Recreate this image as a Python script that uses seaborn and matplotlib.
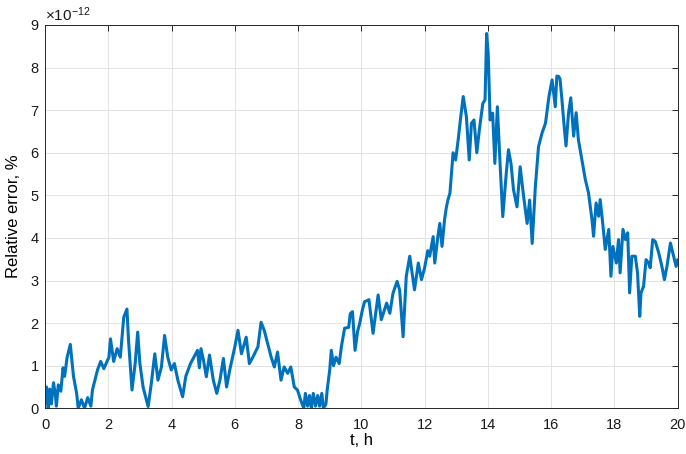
import numpy as np
import pandas as pd
import matplotlib
matplotlib.use("Agg")
import matplotlib.pyplot as plt
import seaborn as sns
from matplotlib.ticker import ScalarFormatter

# time, hours
t_h = [0.0, 0.05, 0.1, 0.15, 0.2, 0.27, 0.33, 0.36, 0.42, 0.5, 0.57, 0.62, 0.7, 0.8, 0.9,
       1.0, 1.05, 1.15, 1.25, 1.35, 1.45, 1.5, 1.66, 1.76, 1.86, 2.02, 2.07, 2.17, 2.28, 2.38,
       2.49, 2.59, 2.64, 2.75, 2.85, 2.93, 3.0, 3.1, 3.26, 3.36, 3.47, 3.57, 3.68, 3.78, 3.88,
       3.99, 4.09, 4.2, 4.35, 4.45, 4.6, 4.82, 4.88, 4.93, 5.01, 5.1, 5.2, 5.32, 5.43, 5.53,
       5.64, 5.74, 5.84, 6.0, 6.1, 6.21, 6.36, 6.46, 6.57, 6.73, 6.83, 6.93, 7.04, 7.15, 7.25,
       7.35, 7.46, 7.56, 7.67, 7.77, 7.88, 7.98, 8.08, 8.18, 8.23, 8.3, 8.36, 8.42, 8.48, 8.55,
       8.62, 8.68, 8.75, 8.8, 8.88, 8.92, 9.0, 9.05, 9.12, 9.2, 9.3, 9.37, 9.47, 9.6, 9.65,
       9.72, 9.8, 9.88, 9.95, 10.03, 10.1, 10.24, 10.37, 10.53, 10.63, 10.8, 10.9, 11.0, 11.13,
       11.21, 11.32, 11.42, 11.53, 11.68, 11.8, 11.9, 12.0, 12.1, 12.16, 12.27, 12.32, 12.42,
       12.48, 12.55, 12.63, 12.69, 12.74, 12.8, 12.9, 12.98, 13.06, 13.13, 13.22, 13.32, 13.41,
       13.48, 13.56, 13.65, 13.73, 13.84, 13.91, 13.96, 14.01, 14.07, 14.15, 14.22, 14.3, 14.39,
       14.47, 14.58, 14.65, 14.73, 14.81, 14.92, 15.02, 15.13, 15.24, 15.32, 15.4, 15.5, 15.6,
       15.71, 15.82, 15.93, 16.03, 16.13, 16.18, 16.24, 16.28, 16.34, 16.41, 16.47, 16.55, 16.62,
       16.71, 16.79, 16.86, 16.97, 17.08, 17.18, 17.29, 17.34, 17.42, 17.5, 17.55, 17.64, 17.71,
       17.82, 17.89, 17.95, 18.06, 18.13, 18.18, 18.27, 18.35, 18.42, 18.48, 18.55, 18.66, 18.73,
       18.8, 18.84, 18.92, 19.0, 19.08, 19.13, 19.21, 19.29, 19.4, 19.5, 19.58, 19.66, 19.77,
       19.87, 19.95, 20.0]

# relative error, units of 1e-12 %
err_e12 = [0.1, 0.5, 0.0, 0.45, 0.1, 0.6, 0.3, 0.05, 0.55, 0.4, 0.95, 0.75, 1.2, 1.5, 0.75,
           0.35, 0.0, 0.2, 0.0, 0.25, 0.05, 0.43, 0.9, 1.1, 0.93, 1.2, 1.63, 1.1, 1.4, 1.2,
           2.14, 2.33, 1.6, 0.43, 1.05, 1.79, 1.05, 0.5, 0.04, 0.58, 1.28, 0.66, 0.97, 1.71, 1.2,
           0.9, 1.05, 0.66, 0.27, 0.75, 1.05, 1.36, 0.95, 1.4, 1.13, 0.74, 1.25, 0.66, 0.35, 0.66,
           1.17, 0.5, 0.9, 1.44, 1.83, 1.28, 1.67, 1.05, 1.2, 1.44, 2.02, 1.83, 1.52, 1.2, 0.97,
           1.32, 0.66, 0.97, 0.82, 0.97, 0.5, 0.43, 0.2, 0.0, 0.35, 0.05, 0.3, 0.0, 0.35, 0.05,
           0.3, 0.05, 0.35, 0.0, 0.1, 0.43, 0.9, 1.36, 1.0, 1.2, 1.05, 1.45, 1.88, 1.9, 2.22,
           2.27, 1.36, 1.8, 2.0, 2.3, 2.5, 2.55, 1.76, 2.66, 2.08, 2.47, 2.23, 2.7, 2.98,
           2.78, 1.68, 3.1, 3.57, 2.78, 3.41, 3.02, 3.3, 3.7, 3.57, 4.03, 3.41, 4.04,
           4.34, 3.8, 4.43, 4.73, 4.9, 5.05, 6.0, 5.83, 6.3, 6.77, 7.32, 6.85, 5.83,
           6.69, 6.77, 6.0, 6.54, 7.16, 7.24, 8.8, 8.33, 6.77, 6.93, 5.75, 7.08, 5.67,
           4.5, 5.51, 6.07, 5.75, 5.13, 4.73, 5.67, 4.97, 4.34, 4.89, 3.87, 5.2, 6.14,
           6.46, 6.69, 7.32, 7.71, 7.08, 7.8, 7.79, 7.73, 7.25, 6.63, 6.16, 6.94, 7.29,
           6.39, 6.94, 6.31, 5.84, 5.37, 5.06, 4.43, 4.04, 4.82, 4.51, 4.9, 4.27, 3.73,
           4.2, 3.1, 3.8, 3.41, 3.96, 3.18, 4.2, 3.96, 4.12, 2.71, 3.57, 3.57, 3.18,
           2.16, 2.71, 2.86, 3.49, 3.41, 3.3, 3.96, 3.92, 3.65, 3.33, 3.02, 3.33, 3.88,
           3.57, 3.33, 3.49]

x_ticks = [0, 2, 4, 6, 8, 10, 12, 14, 16, 18, 20]
y_ticks = [0, 1, 2, 3, 4, 5, 6, 7, 8, 9]

df = pd.DataFrame({"t": t_h, "err": np.array(err_e12) * 1e-12})

sns.set_theme(style="white")
plt.rcParams["font.family"] = ["Liberation Sans", "DejaVu Sans"]
plt.rcParams["mathtext.fontset"] = "custom"
plt.rcParams["mathtext.rm"] = "Liberation Sans"

fig = plt.figure(figsize=(6.86, 4.54), dpi=100)
ax = fig.add_axes([0.0656, 0.1007, 0.9223, 0.8443])

sns.lineplot(data=df, x="t", y="err", ax=ax, estimator=None, sort=False,
             color="#0072BD", linewidth=2.2)

ax.set_xlim(0, 20)
ax.set_ylim(0, 9e-12)
ax.set_xticks(x_ticks)
ax.set_yticks([v * 1e-12 for v in y_ticks])
fmt = ScalarFormatter(useMathText=True)
fmt.set_powerlimits((0, 0))
ax.yaxis.set_major_formatter(fmt)
ax.yaxis.get_offset_text().set_fontsize(11)
ax.yaxis.get_offset_text().set_color("#262626")

ax.grid(True, color="#e3e3e3", linewidth=0.7)
for s in ax.spines.values():
    s.set_visible(True)
    s.set_color("#262626")
    s.set_linewidth(0.7)
ax.tick_params(direction="in", top=True, right=True, length=4, width=0.7,
               colors="#262626", labelsize=10.5, labelcolor="#1a1a1a")
ax.tick_params(axis="x", pad=7)
ax.tick_params(axis="y", pad=4)

ax.set_xlabel("t, h", fontsize=12, color="black", labelpad=1)
ax.set_ylabel("Relative error, %", fontsize=12, color="black", labelpad=6)

fig.savefig("out.png", dpi=100)
